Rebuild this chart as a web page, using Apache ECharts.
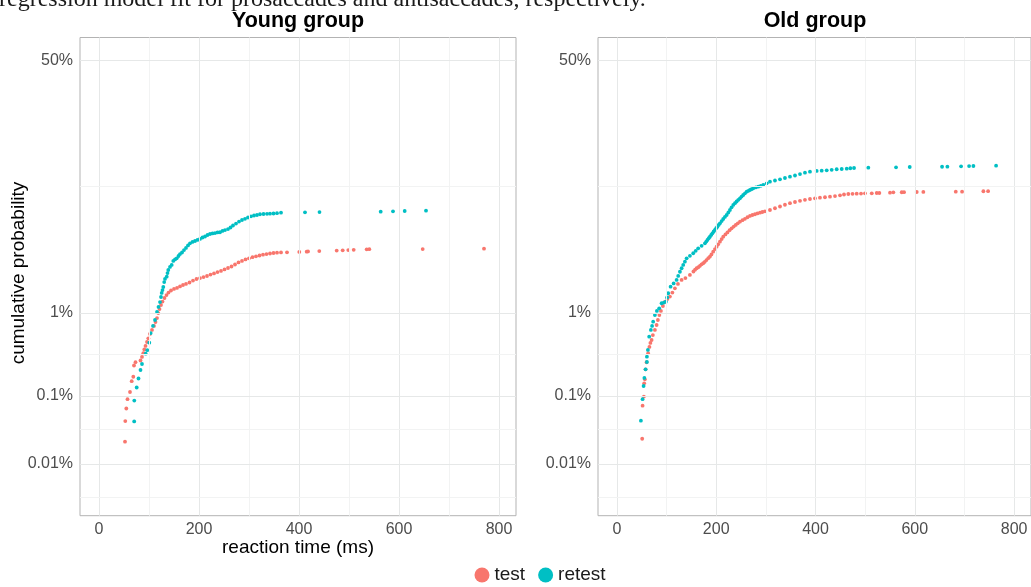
<!DOCTYPE html>
<html>
<head>
<meta charset="utf-8">
<script src="https://cdn.jsdelivr.net/npm/echarts@6/dist/echarts.min.js"></script>
<style>
html,body{margin:0;padding:0;background:#fff;}
#chart{width:1031px;height:587px;}
</style>
</head>
<body>
<div id="chart"></div>
<script>
// ---------------- data (reaction time in ms, cumulative probability in %) ----------------
const panelTitles = ['Young group', 'Old group'];
const seriesNames = ['test', 'retest'];
const xTicks = [0, 200, 400, 600, 800];
const xMinorTicks = [100, 300, 500, 700];
const yTickPct = [50, 1, 0.1, 0.01];
const yTickLabels = ['50%', '1%', '0.1%', '0.01%'];

const youngTestRT = [52,52.6,54.6,57,62,65.4,68.6,70,73,
  83,86,88.6,90.6,93,96,98.6,102,106,110,113,116,118.6,121,124,127,131,135,139,144,150,156,162,168,174,181,188,195,202,209,216,223,230,237,244,251,258,265,272,279,286,293,300,307,314,321,328,335,342,349,356,364,376,
  400.6,415.4,418,440.6,475.4,487.4,498.6,509.4,535.4,540.6,647.4,770];
const youngTestPct = [0.0221,0.0445,0.067,0.090,0.1125,0.156,0.178,0.247,0.272,
  0.285,0.315,0.349,0.387,0.426,0.474,0.523,0.587,0.651,0.722,0.798,0.882,0.998,1.10,1.213,1.318,1.433,1.535,1.626,1.704,1.765,1.805,1.867,1.93,1.975,2.04,2.13,2.205,2.25,2.30,2.355,2.43,2.49,2.565,2.625,2.71,2.795,2.885,3.01,3.14,3.24,3.34,3.42,3.50,3.56,3.62,3.68,3.73,3.77,3.81,3.83,3.85,3.86,
  3.89,3.91,3.93,3.96,4.00,4.02,4.04,4.06,4.10,4.11,4.12,4.15];

const youngRetestRT = [70.4,70.6,75.4,79,83,86,93.4,96.6,100.6,103.4,
  108,112,116,119,122,124,125.4,127,128.6,130.4,132,135.4,137,138.6,142,145.4,148.6,152,155.4,159,162,166,170,174,178,182,187,192,197,202,207,212,217,222,227,232,237,242,247,252,258,263,268,274,280,286,292,298,304,310,316,322,329,336,342,349,356,364,
  412,441,563.4,588,611.4,654];
const youngRetestPct = [0.044,0.086,0.129,0.169,0.217,0.258,0.345,0.38,0.466,0.60,
  0.722,0.84,1.025,1.157,1.30,1.466,1.61,1.72,1.845,2.06,2.21,2.32,2.51,2.68,2.86,2.98,3.24,3.34,3.42,3.585,3.73,3.845,4.04,4.21,4.42,4.61,4.73,4.82,4.92,5.01,5.15,5.25,5.40,5.50,5.56,5.60,5.66,5.68,5.82,5.92,6.03,6.20,6.43,6.66,6.90,7.09,7.24,7.41,7.56,7.67,7.74,7.84,7.87,7.90,7.91,7.94,7.98,8.05,
  8.10,8.14,8.19,8.24,8.29,8.33];

const oldTestRT = [51,51.8,54.4,55,56.4,57.8,59.8,63,
  65.5,67.5,70,72.5,76.6,80,82.6,85.6,88.7,92.7,96.7,101.8,106.8,111.8,116.9,123,130.4,138,147.1,154.2,157.5,160.6,164,167.3,170.5,173.9,177,180.4,184,187.4,190.5,194,197.6,200.9,204,207.6,211,214.2,218.6,222.7,227,231.1,235.3,239.4,243.5,247.9,253,257.9,263,268,273,278.1,283,288.2,293,298.2,308.3,318.4,328.5,338.5,348.6,358.7,368.8,378.8,388.9,399,409,419.1,429.2,439.3,449.4,457.4,466.1,474.6,483,491.7,499.7,
  513.3,523.3,528.6,550.1,556.8,573.7,578.3,603.9,617.2,682.5,695.2,738.1,747.6];
const oldTestPct = [0.0245,0.0734,0.0975,0.1465,0.165,0.221,0.271,0.349,
  0.415,0.462,0.50,0.570,0.651,0.74,0.84,0.951,1.05,1.185,1.305,1.40,1.48,1.625,1.79,1.975,2.16,2.25,2.41,2.595,2.70,2.78,2.84,2.93,3.02,3.09,3.18,3.30,3.43,3.54,3.70,3.91,4.12,4.32,4.52,4.76,5.00,5.23,5.46,5.66,5.90,6.11,6.31,6.49,6.69,6.88,7.07,7.24,7.44,7.61,7.74,7.84,7.95,8.05,8.15,8.24,8.43,8.68,8.94,9.20,9.45,9.63,9.82,9.98,10.11,10.22,10.33,10.40,10.49,10.60,10.73,10.86,10.95,10.98,11.00,11.02,11.06,
  11.06,11.12,11.12,11.18,11.24,11.25,11.26,11.30,11.31,11.35,11.36,11.43,11.44];

const oldRetestRT = [48.4,51.8,53.8,55.4,57.8,60.5,60.5,62.5,
  65.1,68.5,70.9,73.1,76.6,80.6,85.2,90.1,94.7,98.7,101.2,103.4,108.2,114.3,120.3,123.5,127,130.4,133.6,137,140.5,147.1,153.8,158.8,163.8,170.7,177.3,180,182.4,185,187.4,190,192.4,195,197.5,200,202.5,205,207.6,211,214.2,217.6,221.1,224.5,227.7,231,234.4,237.8,241.2,244.6,247.9,251.2,254.5,258,261.4,264.8,268,271.3,274.7,279.8,284.8,289.8,294.8,301.7,308.3,318.4,328.5,338.5,348.6,358.7,368.8,378.8,388.9,402.4,412.5,422.6,432.6,442.7,452.8,462.9,470.2,477.6,
  506.4,562.2,589.8,654.9,665.6,693.2,709.3,718,763.7];
const oldRetestPct = [0.045,0.090,0.135,0.172,0.221,0.273,0.317,0.382,
  0.546,0.651,0.722,0.805,0.951,1.05,1.12,1.265,1.287,1.314,1.45,1.60,1.86,2.00,2.16,2.36,2.58,2.78,2.98,3.19,3.42,3.60,3.79,3.98,4.18,4.39,4.61,4.77,4.92,5.08,5.23,5.41,5.57,5.76,5.93,6.12,6.29,6.50,6.69,6.96,7.22,7.48,7.74,8.08,8.43,8.81,9.17,9.45,9.71,9.98,10.22,10.51,10.78,11.07,11.35,11.51,11.66,11.81,11.96,12.12,12.26,12.43,12.59,12.90,13.22,13.46,13.70,13.97,14.24,14.49,14.80,15.08,15.30,15.46,15.52,15.61,15.72,15.84,15.90,15.97,16.06,16.12,
  16.19,16.28,16.35,16.41,16.42,16.50,16.57,16.58,16.64];

// ---------------- probit scale transform ----------------
function probit(p) {
  const a=[-3.969683028665376e+01,2.209460984245205e+02,-2.759285104469687e+02,1.383577518672690e+02,-3.066479806614716e+01,2.506628277459239e+00];
  const b=[-5.447609879822406e+01,1.615858368580409e+02,-1.556989798598866e+02,6.680131188771972e+01,-1.328068155288572e+01];
  const c=[-7.784894002430293e-03,-3.223964580411365e-01,-2.400758277161838e+00,-2.549732539343734e+00,4.374664141464968e+00,2.938163982698783e+00];
  const d=[7.784695709041462e-03,3.224671290700398e-01,2.445134137142996e+00,3.754408661907416e+00];
  const plow=0.02425, phigh=1-plow;
  let q, r;
  if (p < plow) {
    q = Math.sqrt(-2*Math.log(p));
    return (((((c[0]*q+c[1])*q+c[2])*q+c[3])*q+c[4])*q+c[5])/((((d[0]*q+d[1])*q+d[2])*q+d[3])*q+1);
  } else if (p <= phigh) {
    q = p-0.5; r = q*q;
    return (((((a[0]*r+a[1])*r+a[2])*r+a[3])*r+a[4])*r+a[5])*q/(((((b[0]*r+b[1])*r+b[2])*r+b[3])*r+b[4])*r+1);
  } else {
    q = Math.sqrt(-2*Math.log(1-p));
    return -(((((c[0]*q+c[1])*q+c[2])*q+c[3])*q+c[4])*q+c[5])/((((d[0]*q+d[1])*q+d[2])*q+d[3])*q+1);
  }
}
const pts = (rt, pct) => rt.map((x, i) => [x, probit(pct[i] / 100)]);

const yMajor = yTickPct.map(v => probit(v / 100));
// ggplot-style minor breaks: midpoints of the major breaks in transformed space
const ySorted = yMajor.slice().sort((m, n) => m - n);
const yMinor = [];
const ext = [ySorted[0] - (ySorted[1] - ySorted[0])].concat(ySorted);
for (let i = 0; i < ext.length - 1; i++) yMinor.push((ext[i] + ext[i + 1]) / 2);

const COL_TEST = '#F8766D', COL_RETEST = '#00BFC4';
const FONT = '"Liberation Sans", Arial, sans-serif';
const GRID_MAJOR = '#e6e8e8', GRID_MINOR = '#f2f3f3', BORDER = '#b3b3b3';
const X_MIN = -38, X_MAX = 834, Y_MIN = -4.196, Y_MAX = 0.214;

const grids = [
  {left: 80, top: 37.5, width: 436, height: 478.2},
  {left: 598, top: 37.5, width: 433, height: 478.2}
];

function xAx(i) {
  return {
    type: 'value', gridIndex: i, min: X_MIN, max: X_MAX,
    axisLine: {show: false},
    splitLine: {show: false},
    axisTick: {show: true, length: 4, customValues: xTicks, lineStyle: {color: BORDER}},
    axisLabel: {customValues: xTicks, margin: 6, color: '#4d4d4d', fontSize: 16, fontFamily: FONT}
  };
}
function yAx(i) {
  return {
    type: 'value', gridIndex: i, min: Y_MIN, max: Y_MAX,
    axisLine: {show: false},
    splitLine: {show: false},
    axisTick: {show: true, length: 4, customValues: yMajor, lineStyle: {color: BORDER}},
    axisLabel: {
      customValues: yMajor, margin: 7, color: '#4d4d4d', fontSize: 16, fontFamily: FONT,
      formatter: v => {
        let best = 0;
        yMajor.forEach((m, k) => { if (Math.abs(m - v) < Math.abs(yMajor[best] - v)) best = k; });
        return yTickLabels[best];
      }
    }
  };
}
function gridLineSeries(i) {
  const data = [];
  xTicks.forEach(v => data.push({xAxis: v, lineStyle: {color: GRID_MAJOR}}));
  xMinorTicks.forEach(v => data.push({xAxis: v, lineStyle: {color: GRID_MINOR}}));
  yMajor.forEach(v => data.push({yAxis: v, lineStyle: {color: GRID_MAJOR}}));
  yMinor.forEach(v => { if (v > Y_MIN && v < Y_MAX) data.push({yAxis: v, lineStyle: {color: GRID_MINOR}}); });
  return {
    type: 'line', name: 'gridlines', xAxisIndex: i, yAxisIndex: i, data: [], z: 1, silent: true,
    markLine: {silent: true, symbol: ['none', 'none'], label: {show: false}, animation: false,
      lineStyle: {type: 'solid', width: 1}, emphasis: {disabled: true}, data: data}
  };
}
function scatter(name, i, data, color) {
  return {
    type: 'scatter', name: name, xAxisIndex: i, yAxisIndex: i, data: data, z: 3,
    symbol: 'circle', symbolSize: 3.8, itemStyle: {color: color, opacity: 1}, silent: true
  };
}

const chart = echarts.init(document.getElementById('chart'), null, {renderer: 'canvas'});
chart.setOption({
  animation: false,
  backgroundColor: '#ffffff',
  grid: grids.map(g => Object.assign({show: true, borderColor: BORDER, borderWidth: 1, backgroundColor: '#fff'}, g)),
  xAxis: [xAx(0), xAx(1)],
  yAxis: [yAx(0), yAx(1)],
  legend: {
    data: seriesNames, left: 474.5, top: 565.5, padding: 0, icon: 'circle', itemWidth: 15, itemHeight: 15, itemGap: 13,
    textStyle: {fontSize: 19, color: '#1a1a1a', fontFamily: FONT}, selectedMode: false
  },
  graphic: [
    {type: 'text', x: -1, y: 12, silent: true, style: {text: 'regression model fit for prosaccades and antisaccades, respectively.',
      fontFamily: '"Liberation Serif", "Times New Roman", serif', fontSize: 24, fill: '#1a1a1a',
      align: 'left', verticalAlign: 'bottom', textAlign: 'left', textVerticalAlign: 'bottom'}},
    {type: 'text', x: 298, y: 21.5, silent: true, style: {text: panelTitles[0], fontFamily: FONT, fontSize: 21.5, fontWeight: 'bold', fill: '#000',
      align: 'center', verticalAlign: 'middle', textAlign: 'center', textVerticalAlign: 'middle'}},
    {type: 'text', x: 815, y: 21.5, silent: true, style: {text: panelTitles[1], fontFamily: FONT, fontSize: 21.5, fontWeight: 'bold', fill: '#000',
      align: 'center', verticalAlign: 'middle', textAlign: 'center', textVerticalAlign: 'middle'}},
    {type: 'text', x: 298, y: 547.5, silent: true, style: {text: 'reaction time (ms)', fontFamily: FONT, fontSize: 19, fill: '#000',
      align: 'center', verticalAlign: 'middle', textAlign: 'center', textVerticalAlign: 'middle'}},
    {type: 'text', x: 19, y: 273, rotation: Math.PI / 2, silent: true, style: {text: 'cumulative probability', fontFamily: FONT, fontSize: 19, fill: '#000',
      align: 'center', verticalAlign: 'middle', textAlign: 'center', textVerticalAlign: 'middle'}}
  ],
  series: [
    gridLineSeries(0), gridLineSeries(1),
    scatter(seriesNames[0], 0, pts(youngTestRT, youngTestPct), COL_TEST),
    scatter(seriesNames[1], 0, pts(youngRetestRT, youngRetestPct), COL_RETEST),
    scatter(seriesNames[0], 1, pts(oldTestRT, oldTestPct), COL_TEST),
    scatter(seriesNames[1], 1, pts(oldRetestRT, oldRetestPct), COL_RETEST)
  ]
});
</script>
</body>
</html>
